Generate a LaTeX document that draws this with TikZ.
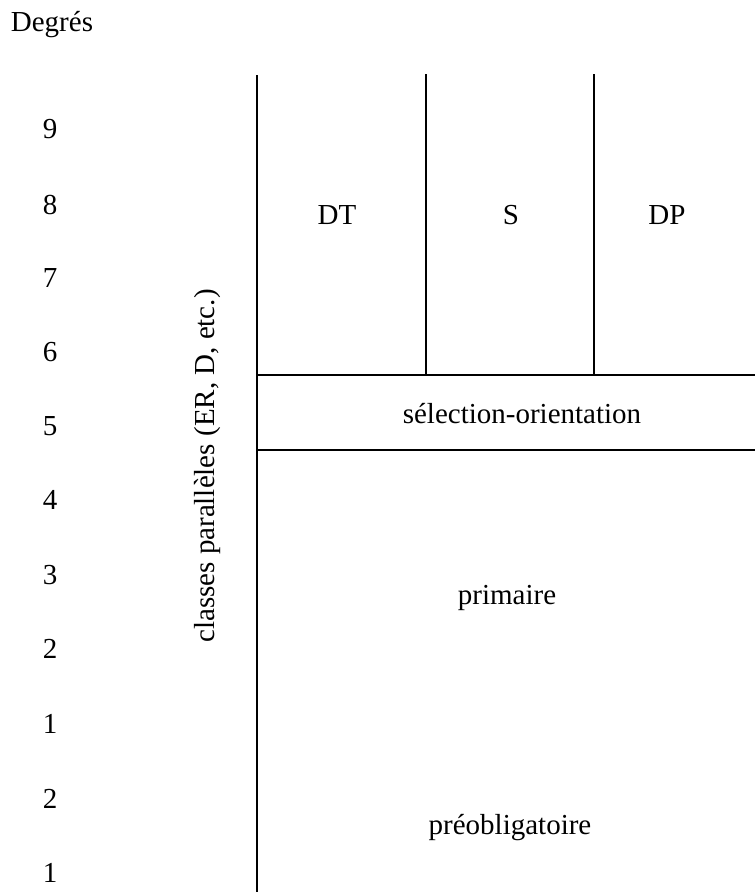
\documentclass[tikz,border=0pt]{standalone}
\usepackage{fontspec}
\setmainfont{Liberation Serif}
\tikzset{
  lbl/.style={inner sep=0pt, font=\fontsize{29}{35}\selectfont},
  rule/.style={line width=2.2pt, line cap=butt}
}
\begin{document}
\begin{tikzpicture}[x=1pt,y=-1pt]
\useasboundingbox (0,0) rectangle (755,892);
% labels
\node[lbl] (deg) at (52,25) {Degrés};
\foreach \n/\y [count=\i] in {9/129,8/205,7/278,6/352,5/426,4/500,3/575,2/649,1/724,2/799,1/873}
  \node[lbl] (num\i) at (50,\y) {\n};
\node[lbl, rotate=90] (par) at (208,466) {classes parallèles (ER, D, etc.)};
\node[lbl] (dt) at (337,215) {DT};
\node[lbl] (s) at (511,215) {S};
\node[lbl] (dp) at (667,215) {DP};
\node[lbl] (sel) at (522,414) {sélection-orientation};
\node[lbl] (prim) at (507,598) {primaire};
\node[lbl] (preo) at (510,828) {préobligatoire};
% rules
\coordinate (mt) at (257,75);
\coordinate (mb) at (257,892);
\coordinate (at) at (426,74);
\coordinate (ab) at (426,375);
\coordinate (bt) at (594,74);
\coordinate (bb) at (594,375);
\coordinate (h1l) at (257,375);
\coordinate (h1r) at (755,375);
\coordinate (h2l) at (257,450);
\coordinate (h2r) at (755,450);
\draw[rule] (mt) -- (mb);
\draw[rule] (at) -- (ab);
\draw[rule] (bt) -- (bb);
\draw[rule] (h1l) -- (h1r);
\draw[rule] (h2l) -- (h2r);
\end{tikzpicture}
\end{document}
